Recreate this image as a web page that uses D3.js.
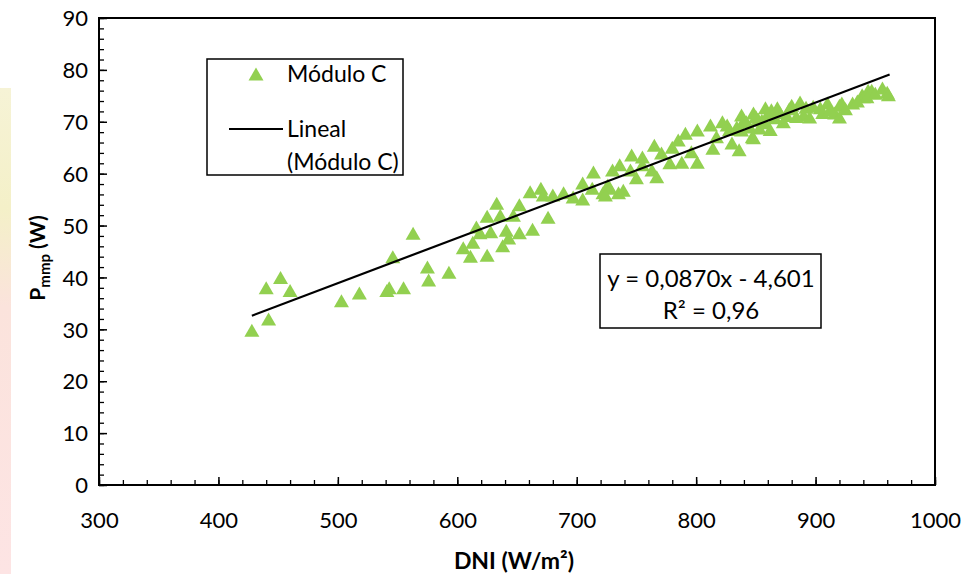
<!DOCTYPE html>
<html lang="es">
<head>
<meta charset="UTF-8">
<title>Pmmp vs DNI - Módulo C</title>
<script src="https://d3js.org/d3.v7.min.js"></script>
<style>
    body { margin: 0; background: #fff; }
    svg { display: block; font-family: Lato, "Open Sans", sans-serif; }
    .tick text { font-size: 22px; fill: #000; font-family: Lato, "Open Sans", sans-serif; }
    .domain { display: none; }
</style>
</head>
<body>
<div id="chart"></div>
<script>
// data (DNI in W/m², Pmmp in W)
const dni = [
    428, 440, 442, 452, 460, 503, 518, 541, 543, 546, 555, 563, 575, 576, 593,
    605, 611, 613, 616, 619, 625, 625, 628, 633, 636, 638, 641, 643, 647, 652,
    652, 663, 661, 670, 672, 676, 680, 689, 697, 705, 705, 713, 714, 722, 726,
    735, 728, 724, 739, 730, 736, 746, 745, 750, 755, 755, 765, 763, 767, 771,
    778, 780, 785, 788, 791, 796, 801, 801, 812, 814, 817, 830, 826, 834, 838,
    838, 847, 848, 848, 853, 858, 863, 868, 873, 880, 887, 890, 895, 904, 910,
    916, 920, 920, 922, 931, 939, 940, 943, 944, 947, 950, 956, 960, 961,
    822, 828, 840, 845, 852, 858, 862, 842, 850, 855, 860, 866, 870, 876, 878,
    884, 892, 898, 906, 912, 925, 935, 836
];
const pmmp = [
    29.8, 38.0, 32.0, 40.0, 37.5, 35.5, 37.0, 37.5, 38.0, 44.0, 38.0, 48.5, 42.0, 39.5, 41.0,
    45.7, 44.1, 46.8, 49.7, 48.6, 44.3, 51.8, 48.8, 54.3, 52.0, 46.1, 49.1, 47.6, 52.0, 54.0,
    48.6, 49.3, 56.5, 57.2, 55.9, 51.6, 55.9, 56.3, 55.5, 55.1, 58.2, 57.2, 60.3, 56.3, 57.8,
    56.3, 57.2, 55.9, 56.8, 60.7, 61.7, 63.6, 60.7, 59.2, 63.2, 61.7, 65.5, 60.7, 59.4, 64.0,
    62.1, 65.1, 66.5, 62.2, 67.8, 64.2, 68.4, 62.2, 69.4, 64.9, 67.1, 65.9, 69.4, 69.0, 71.3,
    68.4, 67.1, 71.7, 66.9, 68.8, 72.7, 72.3, 72.7, 70.0, 73.2, 73.8, 71.3, 70.9, 72.7, 73.6,
    71.7, 73.2, 70.9, 73.6, 73.6, 75.2, 74.8, 74.8, 76.1, 76.1, 75.5, 76.5, 75.7, 75.2,
    70.0, 68.5, 70.3, 69.0, 70.5, 69.8, 68.5, 70.0, 71.0, 70.3, 71.5, 70.8, 71.8, 71.2, 72.5,
    71.0, 72.8, 73.0, 71.8, 72.3, 72.5, 74.0, 64.6
];
// linear fit shown on the chart
const slope = 0.0870;
const intercept = -4.601;
const fitRange = [428, 962];

const xTicks = [300, 400, 500, 600, 700, 800, 900, 1000];
const yTicks = [0, 10, 20, 30, 40, 50, 60, 70, 80, 90];

const W = 972, H = 574;
const margin = {top: 18, right: 37, bottom: 89, left: 99};
const width = W - margin.left - margin.right;
const height = H - margin.top - margin.bottom;

const svg = d3.select("#chart").append("svg")
    .attr("width", W)
    .attr("height", H);

// faint picture bleeding in at the left edge
const grad = svg.append("defs").append("linearGradient")
    .attr("id", "bleed").attr("x1", 0).attr("y1", 0).attr("x2", 0).attr("y2", 1);
grad.append("stop").attr("offset", "0%").attr("stop-color", "#f6f3d6");
grad.append("stop").attr("offset", "25%").attr("stop-color", "#f4f0c8");
grad.append("stop").attr("offset", "45%").attr("stop-color", "#fbe3dc");
grad.append("stop").attr("offset", "100%").attr("stop-color", "#fde4e4");
svg.append("rect")
    .attr("x", 0).attr("y", 88).attr("width", 11).attr("height", H - 88)
    .attr("fill", "url(#bleed)");

const g = svg.append("g").attr("transform", `translate(${margin.left},${margin.top})`);

const x = d3.scaleLinear().domain([300, 1000]).range([0, width]);
const y = d3.scaleLinear().domain([0, 90]).range([height, 0]);

// minor ticks
g.append("g")
    .attr("transform", `translate(0,${height})`)
    .call(d3.axisBottom(x).tickValues(d3.range(300, 1001, 20)).tickSize(-5).tickFormat(""))
    .selectAll("line").attr("stroke", "#000").attr("stroke-width", 1.3);
g.append("g")
    .call(d3.axisLeft(y).tickValues(d3.range(0, 91, 2)).tickSize(-5).tickFormat(""))
    .selectAll("line").attr("stroke", "#000").attr("stroke-width", 1.3);

// major ticks + labels
const xAxis = g.append("g")
    .attr("transform", `translate(0,${height})`)
    .call(d3.axisBottom(x).tickValues(xTicks).tickFormat(d3.format("d")).tickSize(-8).tickPadding(27));
xAxis.selectAll("line").attr("stroke", "#000").attr("stroke-width", 1.5);

const yAxis = g.append("g")
    .call(d3.axisLeft(y).tickValues(yTicks).tickSize(-8).tickPadding(11));
yAxis.selectAll("line").attr("stroke", "#000").attr("stroke-width", 1.5);
yAxis.selectAll("text").attr("dy", "0.35em");

// frame
g.append("rect")
    .attr("width", width).attr("height", height)
    .attr("fill", "none").attr("stroke", "#000").attr("stroke-width", 2);

// points
const tri = "M0,-6.5L7.5,6.5L-7.5,6.5Z";
g.append("g").selectAll("path")
    .data(dni.map((d, i) => [d, pmmp[i]]))
    .join("path")
    .attr("d", tri)
    .attr("transform", d => `translate(${x(d[0])},${y(d[1])})`)
    .attr("fill", "#92d050");

// trend line
g.append("line")
    .attr("x1", x(fitRange[0])).attr("y1", y(slope * fitRange[0] + intercept))
    .attr("x2", x(fitRange[1])).attr("y2", y(slope * fitRange[1] + intercept))
    .attr("stroke", "#000").attr("stroke-width", 2.2);

// legend
const leg = svg.append("g");
leg.append("rect")
    .attr("x", 207).attr("y", 59).attr("width", 196).attr("height", 116)
    .attr("fill", "#fff").attr("stroke", "#000").attr("stroke-width", 1.5);
leg.append("path").attr("d", tri).attr("transform", "translate(256,74)").attr("fill", "#92d050");
leg.append("text").attr("x", 287).attr("y", 82).attr("font-size", 23).text("Módulo C");
leg.append("line").attr("x1", 229).attr("x2", 283).attr("y1", 129).attr("y2", 129)
    .attr("stroke", "#000").attr("stroke-width", 1.8);
leg.append("text").attr("x", 287).attr("y", 137).attr("font-size", 23).text("Lineal");
leg.append("text").attr("x", 287).attr("y", 170).attr("font-size", 23).text("(Módulo C)");

// equation box
const eq = svg.append("g");
eq.append("rect")
    .attr("x", 600).attr("y", 254).attr("width", 221).attr("height", 74)
    .attr("fill", "#fff").attr("stroke", "#000").attr("stroke-width", 1.5);
eq.append("text").attr("x", 711).attr("y", 287).attr("text-anchor", "middle")
    .attr("font-size", 24).text("y = 0,0870x - 4,601");
eq.append("text").attr("x", 711).attr("y", 319).attr("text-anchor", "middle")
    .attr("font-size", 24).text("R² = 0,96");

// axis titles
svg.append("text")
    .attr("x", margin.left + width / 2 - 3).attr("y", 569)
    .attr("text-anchor", "middle").attr("font-size", 23).attr("font-weight", "bold")
    .text("DNI (W/m²)");

const yt = svg.append("text")
    .attr("transform", "translate(45,258) rotate(-90)")
    .attr("text-anchor", "middle").attr("font-size", 21).attr("font-weight", "bold");
yt.append("tspan").text("P");
yt.append("tspan").attr("font-size", 15).attr("dy", 5).text("mmp");
yt.append("tspan").attr("dy", -5).text(" (W)");
</script>
</body>
</html>
